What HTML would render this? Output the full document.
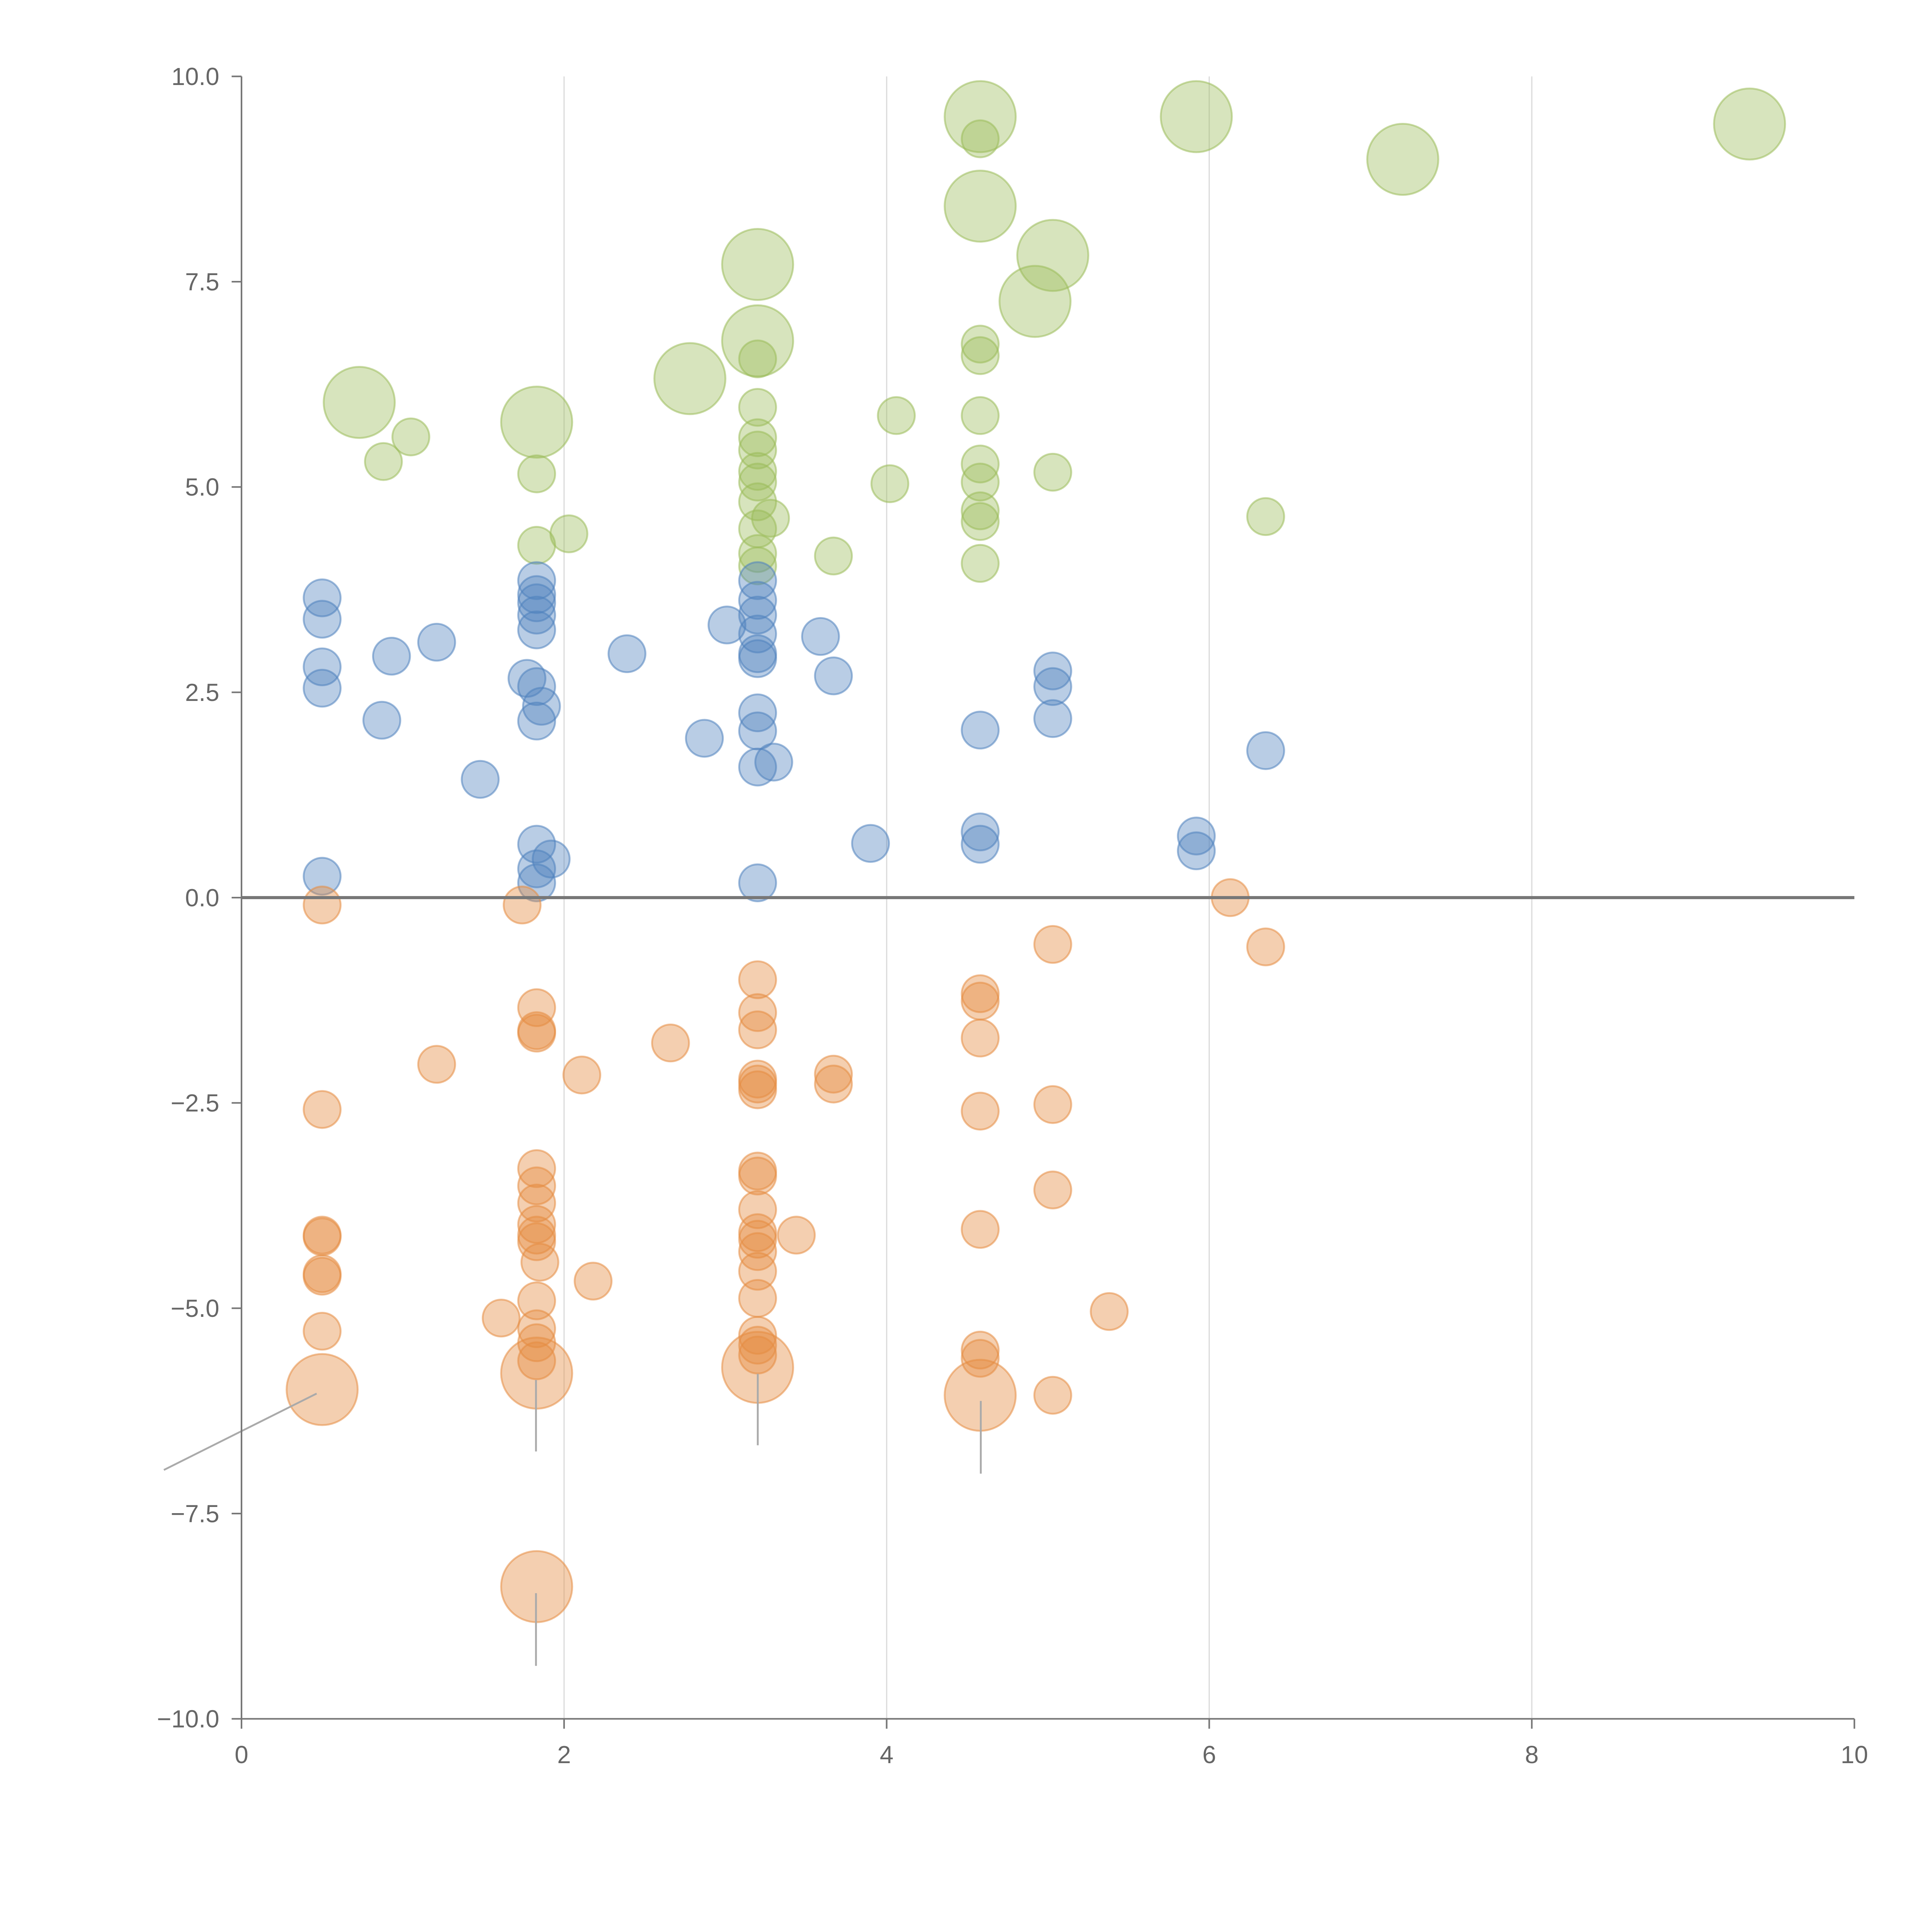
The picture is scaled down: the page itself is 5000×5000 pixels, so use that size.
<!DOCTYPE html>
<html><head><meta charset="utf-8">
<style>
html,body{margin:0;padding:0;background:#fff;}
svg{display:block;}
text{font-family:"Liberation Sans",Arial,sans-serif;fill:#666;}
</style></head>
<body>
<svg id="chart" width="5000" height="5000" viewBox="0 0 1568 1568" xmlns="http://www.w3.org/2000/svg">
<g id="grid"></g>
<g id="marks"></g>
<g id="leaders"></g>
<g id="axes"></g>
</svg>
<script>
const xTicks=[0,2,4,6,8,10];
const yTicks=[10,7.5,5,2.5,0,-2.5,-5,-7.5,-10];
const yTickLabels=["10.0","7.5","5.0","2.5","0.0","\u22122.5","\u22125.0","\u22127.5","\u221210.0"];

const greenX=[0.73,0.88,1.05,1.83,1.83,1.83,2.03,2.78,3.2,3.2,3.2,3.2,3.2,3.2,3.2,3.2,3.2,3.2,3.28,3.2,3.2,3.67,4.06,4.02,4.58,4.58,4.58,4.58,4.58,4.58,4.58,4.58,4.58,4.58,4.58,5.03,4.92,5.03,5.92,7.2,9.35,6.35];
const greenY=[6.03,5.31,5.61,5.79,5.16,4.29,4.43,6.32,7.71,6.78,6.56,5.97,5.6,5.45,5.19,5.06,4.82,4.49,4.62,4.19,4.04,4.16,5.87,5.04,9.51,9.24,8.42,6.74,6.6,5.87,5.28,5.06,4.71,4.58,4.07,7.82,7.26,5.18,9.51,8.99,9.42,4.64];
const greenS=[3.7,1,1,3.7,1,1,1,3.7,3.7,3.7,1,1,1,1,1,1,1,1,1,1,1,1,1,1,3.7,1,3.7,1,1,1,1,1,1,1,1,3.7,3.7,1,3.7,3.7,3.7,1];

const blueX=[0.5,0.5,0.5,0.5,0.5,0.87,0.93,1.21,1.48,1.83,1.83,1.83,1.83,1.83,1.77,1.83,1.86,1.83,1.83,1.83,1.92,1.83,2.39,2.87,3.01,3.2,3.2,3.2,3.2,3.2,3.2,3.2,3.2,3.2,3.3,3.2,3.59,3.67,3.9,4.58,4.58,4.58,5.03,5.03,5.03,5.92,5.92,6.35];
const blueY=[3.65,3.39,2.81,2.55,0.26,2.16,2.94,3.11,1.44,3.86,3.69,3.59,3.44,3.26,2.67,2.57,2.33,2.15,0.65,0.35,0.47,0.18,2.97,1.94,3.32,3.86,3.62,3.44,3.21,2.97,2.91,2.25,2.03,1.59,1.65,0.18,3.18,2.7,0.66,2.04,0.8,0.65,2.76,2.57,2.18,0.75,0.57,1.79];

const orangeX=[0.5,0.5,0.5,0.5,0.5,0.5,0.5,0.5,1.21,1.74,1.83,1.83,1.83,1.83,1.83,1.83,1.83,1.83,1.83,1.85,1.83,1.83,1.83,1.83,1.83,1.83,1.61,2.11,2.18,2.66,3.2,3.2,3.2,3.2,3.2,3.2,3.2,3.2,3.2,3.2,3.2,3.2,3.2,3.2,3.2,3.2,3.2,3.2,3.44,3.67,3.67,4.58,4.58,4.58,4.58,4.58,4.58,4.58,4.58,5.03,5.03,5.03,5.03,5.38,6.13,6.35];
const orangeY=[-0.09,-2.58,-4.11,-4.13,-4.58,-4.61,-5.28,-5.99,-2.03,-0.09,-1.34,-1.62,-1.65,-3.3,-3.51,-3.72,-3.98,-4.11,-4.19,-4.44,-4.91,-5.25,-5.42,-5.64,-5.79,-8.39,-5.12,-2.16,-4.67,-1.77,-1.0,-1.4,-1.61,-2.21,-2.27,-2.34,-3.33,-3.39,-3.8,-4.08,-4.16,-4.31,-4.55,-4.88,-5.33,-5.45,-5.57,-5.72,-4.11,-2.15,-2.27,-1.17,-1.26,-1.71,-2.6,-4.04,-5.51,-5.61,-6.06,-0.57,-2.52,-3.56,-6.06,-5.04,0.0,-0.6];
const orangeS=[1,1,1,1,1,1,1,3.7,1,1,1,1,1,1,1,1,1,1,1,1,1,1,1,1,3.7,3.7,1,1,1,1,1,1,1,1,1,1,1,1,1,1,1,1,1,1,1,1,1,3.7,1,1,1,1,1,1,1,1,1,1,3.7,1,1,1,1,1,1,1];

const X0=196,X1=1505,Y0=1395,Y1=62;
function sx(v){return X0+(v-0)/(10-0)*(X1-X0);}
function sy(v){return Y0-(v+10)/20*(Y0-Y1);}
function sr(s){return 15*Math.sqrt(s);}
const NS="http://www.w3.org/2000/svg";
function mk(tag,attrs,parent){const e=document.createElementNS(NS,tag);for(const k in attrs)e.setAttribute(k,attrs[k]);parent.appendChild(e);return e;}

const grid=document.getElementById('grid');
xTicks.forEach(t=>{ if(t===0||t===10) return;
  const l=mk('line',{x1:sx(t),x2:sx(t),y1:Y1,y2:Y0,stroke:'#dcdcdc','stroke-width':1},grid);
  
  
});

const marks=document.getElementById('marks');
function series(xs,ys,ss,fill,stroke,name){
  const g=mk('g',{},marks);
  
  
  xs.forEach((x,i)=>{
    const c=mk('circle',{cx:sx(x),cy:sy(ys[i]),r:sr(ss?ss[i]:1),fill:fill,stroke:stroke,'stroke-width':1.5},g);
    
    
  });
}
series(greenX,greenY,greenS,'rgba(155,187,89,0.4)','rgba(155,187,89,0.55)','green');
series(blueX,blueY,null,'rgba(79,129,189,0.4)','rgba(79,129,189,0.55)','blue');
series(orangeX,orangeY,orangeS,'rgba(229,140,66,0.42)','rgba(229,140,66,0.55)','orange');

const leaders=document.getElementById('leaders');
[[257,1131,133,1193],[435,1120,435,1178],[615,1115,615,1173],[796,1137,796,1196],[435,1293,435,1352]].forEach(p=>{
  const l=mk('line',{x1:p[0],y1:p[1],x2:p[2],y2:p[3],stroke:'#aaa','stroke-width':1.5},leaders);
  
  
});

const axes=document.getElementById('axes');
const zl=mk('line',{x1:X0,x2:X1,y1:sy(0),y2:sy(0),stroke:'#777','stroke-width':2.5},axes);


const ya=mk('line',{x1:X0,x2:X0,y1:Y1,y2:Y0,stroke:'#777','stroke-width':1.3},axes);


const xa=mk('line',{x1:X0,x2:X1,y1:Y0,y2:Y0,stroke:'#777','stroke-width':1.3},axes);


yTicks.forEach((t,i)=>{
  const tk=mk('line',{x1:X0-8,x2:X0,y1:sy(t),y2:sy(t),stroke:'#777','stroke-width':1.3},axes);
  
  
  const tx=mk('text',{x:X0-18,y:sy(t)+7,'text-anchor':'end','font-size':20},axes);
  tx.textContent=yTickLabels[i];
  
  
});
xTicks.forEach(t=>{
  const tk=mk('line',{x1:sx(t),x2:sx(t),y1:Y0,y2:Y0+8,stroke:'#777','stroke-width':1.3},axes);
  
  
  const tx=mk('text',{x:sx(t),y:Y0+36,'text-anchor':'middle','font-size':20},axes);
  tx.textContent=String(t);
  
  
});
</script>
</body></html>
